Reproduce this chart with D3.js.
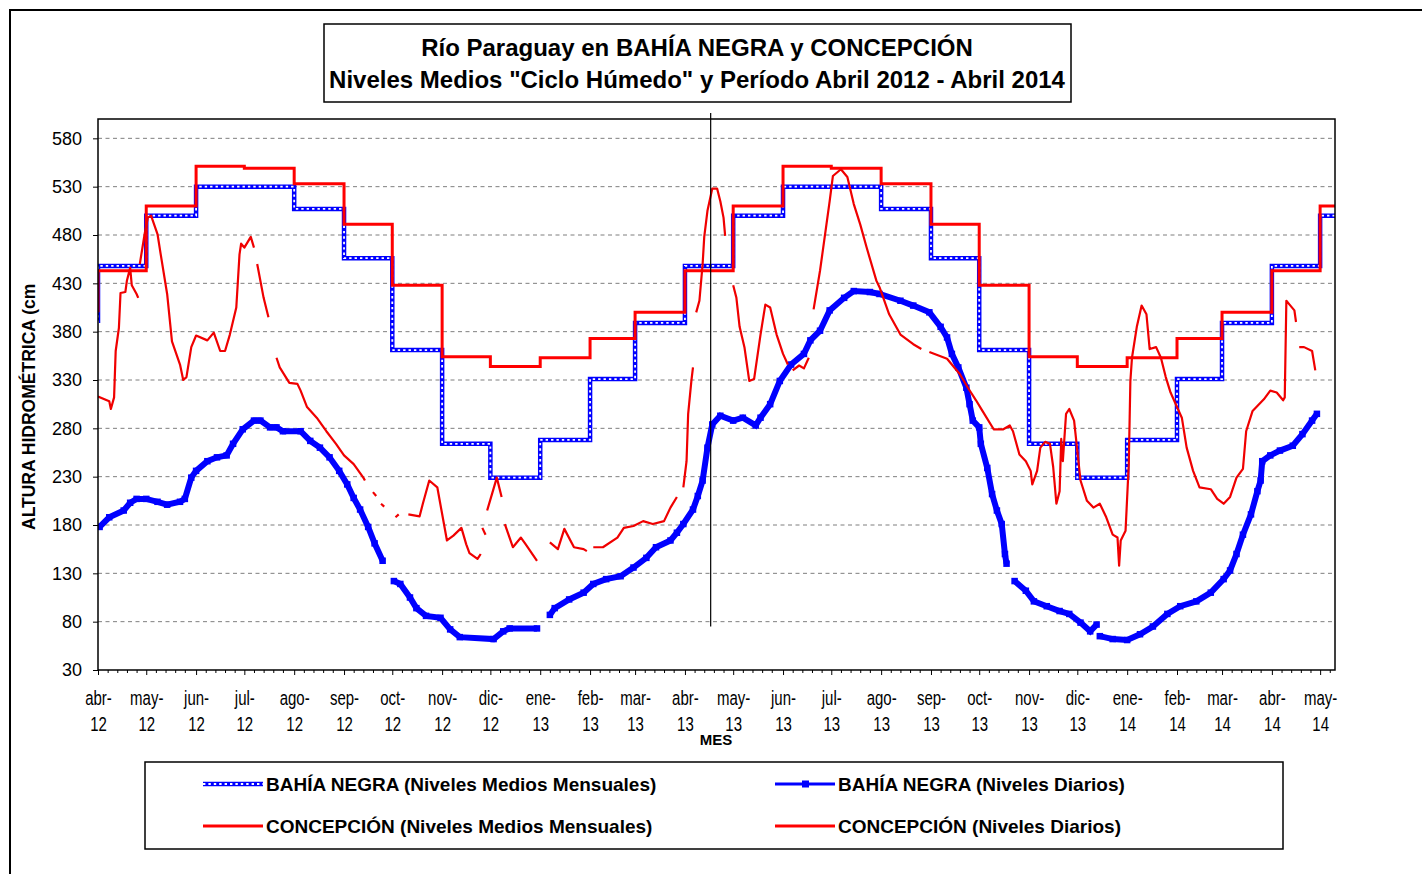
<!DOCTYPE html>
<html>
<head>
<meta charset="utf-8">
<script src="https://cdn.jsdelivr.net/npm/d3@7"></script>
<style>
  body { margin: 0; background: #fff; }
  svg { font-family: Arial, "Liberation Sans", sans-serif; }
</style>
</head>
<body>
<script>
var width = 1422;
var height = 874;

// x tick labels, one per month start (abr-12 ... may-14)
var monthLabels = ["abr-12","may-12","jun-12","jul-12","ago-12","sep-12","oct-12","nov-12","dic-12",
  "ene-13","feb-13","mar-13","abr-13","may-13","jun-13","jul-13","ago-13","sep-13","oct-13","nov-13",
  "dic-13","ene-14","feb-14","mar-14","abr-14","may-14"];
var yTicks = [30, 80, 130, 180, 230, 280, 330, 380, 430, 480, 530, 580];

// monthly means "ciclo humedo", first value is the month before (mar-12)
var bnMonthly = [389, 448, 500, 530, 530, 507, 456, 361, 264, 229, 268, 331, 389,
  448, 500, 530, 530, 507, 456, 361, 264, 229, 268, 331, 389, 448, 500];
var coMonthly = [400, 443, 510, 551, 549, 533, 491, 428, 354, 344, 353, 373, 400,
  443, 510, 551, 549, 533, 491, 428, 354, 344, 353, 373, 400, 443, 510];

// daily levels: [day since 1-abr-2012, cm], null = no data
var bnDaily = [[1,178],[7,188],[16,195],[20,203],[24,207],[30,207],[37,204],[43,201],[51,204],[54,207],
  [58,229],[61,236],[68,246],[74,250],[80,252],[84,264],[90,279],[97,288],[101,288],[107,281],[111,281],
  [115,277],[126,277],[132,267],[138,260],[144,250],[150,236],[155,222],[159,208],[163,196],[168,178],
  [172,161],[177,143],null,[184,122],[188,119],[194,105],[198,94],[204,86],[213,84],[219,72],[225,64],
  [246,62],[252,70],[256,73],[273,73],null,[281,87],[284,94],[293,103],[302,110],[308,119],[316,124],
  [325,127],[333,136],[341,146],[347,157],[356,164],[360,172],[364,181],[370,196],[373,210],[376,226],
  [379,260],[382,284],[387,293],[395,288],[401,291],[409,283],[412,291],[418,305],[424,329],[431,346],
  [439,357],[443,371],[449,381],[455,402],[464,415],[470,422],[480,421],[486,419],[499,412],[507,407],
  [517,400],[524,385],[528,374],[531,357],[535,343],[540,322],[542,305],[544,288],[548,281],[549,264],
  [553,239],[556,212],[559,195],[562,181],[564,150],[565,140],null,[570,122],[577,112],[582,101],[590,96],
  [598,91],[604,88],[611,79],[617,70],[621,77],null,[623,65],[631,62],[640,61],[648,67],[656,75],[665,88],
  [673,96],[683,101],[692,110],[700,124],[704,133],[708,150],[712,170],[717,191],[721,215],[723,226],
  [724,246],[729,252],[735,257],[743,262],[749,274],[755,288],[758,295]];

var coDaily = [[0,313],[7,308],[8,300],[10,312],[11,360],[13,384],[14,420],[17,421],[18,433],[20,446],
  [21,428],[24,419],[25,415],null,
  [26,450],[29,481],[31,498],[33,500],[37,481],[39,460],[43,419],[46,370],[51,346],[53,330],[55,333],
  [58,364],[61,376],[68,371],[72,379],[76,360],[79,360],[82,377],[86,405],[88,460],[89,471],[91,467],
  [95,478],[97,467],null,
  [99,450],[103,415],[106,395],null,
  [111,353],[113,343],[119,327],[124,326],[126,319],[130,302],[136,291],[142,277],[148,264],[153,252],
  [159,243],[165,229],[166,226],null,
  [171,214],[173,210],null,
  [176,202],[178,199],null,
  [185,188],[187,191],null,
  [193,191],[200,189],[202,202],[206,226],[211,219],[217,164],[221,169],[226,177],[229,160],[231,151],
  [236,145],[238,150],null,
  [239,177],[241,170],null,
  [242,195],[245,212],[248,229],[251,209],null,
  [253,181],[258,157],[263,167],[266,160],[273,143],null,
  [281,162],[286,155],[290,176],[296,157],[302,155],[304,153],null,
  [308,157],[314,157],[323,167],[327,177],[333,179],[339,184],[345,181],[352,184],[356,198],[360,209],null,
  [364,219],[366,246],[367,295],[369,329],[370,343],null,
  [372,400],[374,412],[376,450],[377,478],[379,505],[382,528],[385,528],[387,515],[389,498],[390,479],null,
  [395,428],[397,415],[399,385],[402,364],[405,329],[408,331],[412,377],[415,408],[418,405],[422,377],
  [426,357],[429,346],null,
  [432,340],[436,345],[439,342],[442,353],null,
  [445,403],[449,443],[453,491],[455,515],[457,541],[462,548],[466,540],[470,512],[474,491],[478,467],
  [484,433],[486,426],[492,398],[499,377],[507,367],[512,362],null,
  [517,359],[528,352],[536,336],[541,322],[546,309],[550,298],[557,279],[563,279],[567,283],[569,277],
  [573,253],[577,246],[580,236],[581,222],[584,236],[586,260],[589,266],[592,264],[594,240],[596,202],
  [598,215],[599,269],[600,246],[602,295],[604,300],[607,288],[611,226],[615,205],[619,198],[623,202],
  [627,188],[631,170],[634,167],[635,138],[636,164],[639,174],[641,243],[642,329],[643,353],[646,385],
  [649,407],[652,398],[654,362],[658,364],[661,353],[664,333],[667,317],[671,302],[674,291],[677,260],
  [681,236],[685,219],[692,217],[696,207],[700,202],[704,209],[708,229],[712,238],[714,277],[718,298],
  [725,310],[729,319],[733,317],[737,309],[738,312],[739,412],[741,408],[744,402],[745,390],null,
  [747,364],[750,364],[755,360],[757,340]];

var day0 = new Date(2012, 3, 1);
var markerDate = new Date(2013, 3, 17); // vertical line

var svg = d3.select('body').append('svg').attr('width', width).attr('height', height);

var x = d3.scaleTime().domain([day0, new Date(2014, 4, 10, 6)]).range([98, 1335]);
var y = d3.scaleLinear().domain([30, 600]).range([670, 119]);

var monthDates = monthLabels.map(function (l, i) { return d3.timeMonth.offset(day0, i); });

// outer frame
svg.append('rect').attr('x', 10).attr('y', 10).attr('width', 1440).attr('height', 900)
  .attr('fill', 'none').attr('stroke', '#000').attr('stroke-width', 2);

// title
svg.append('rect').attr('x', 324).attr('y', 24).attr('width', 747).attr('height', 78)
  .attr('fill', '#fff').attr('stroke', '#000').attr('stroke-width', 1.5);
svg.append('text').attr('x', 697).attr('y', 56).attr('text-anchor', 'middle')
  .attr('font-size', 24).attr('font-weight', 'bold')
  .text('Río Paraguay en BAHÍA NEGRA y CONCEPCIÓN');
svg.append('text').attr('x', 697).attr('y', 88).attr('text-anchor', 'middle')
  .attr('font-size', 24).attr('font-weight', 'bold')
  .text('Niveles Medios "Ciclo Húmedo" y Período Abril 2012 - Abril 2014');

// grid
svg.append('g').selectAll('line').data(yTicks.slice(1)).enter().append('line')
  .attr('x1', 98).attr('x2', 1335)
  .attr('y1', function (d) { return y(d); }).attr('y2', function (d) { return y(d); })
  .attr('stroke', '#7f7f7f').attr('stroke-width', 1).attr('stroke-dasharray', '4,3.5');

// y axis
var yAxis = svg.append('g').attr('transform', 'translate(98,0)')
  .call(d3.axisLeft(y).tickValues(yTicks).tickSize(5).tickPadding(11).tickSizeOuter(0));
yAxis.select('.domain').remove();
yAxis.selectAll('text').attr('font-size', 18).attr('font-family', 'Arial, "Liberation Sans", sans-serif').attr('fill', '#000');

// x axis minor ticks, every 6 days within each month
var minorDates = [];
monthDates.forEach(function (m) {
  var next = d3.timeMonth.offset(m, 1);
  for (var k = 6; ; k += 6) {
    var d = d3.timeDay.offset(m, k);
    if (d3.timeDay.count(d, next) < 3 || d > x.domain()[1]) break;
    minorDates.push(d);
  }
});
var xMinor = svg.append('g').attr('transform', 'translate(0,670)')
  .call(d3.axisBottom(x).tickValues(minorDates).tickSize(3).tickFormat(''));
xMinor.select('.domain').remove();

var sy = 1.35;
var xAxis = svg.append('g').attr('transform', 'translate(0,670)')
  .call(d3.axisBottom(x).tickValues(monthDates).tickSize(5).tickSizeOuter(0)
    .tickFormat(function (d, i) { return monthLabels[i]; }));
xAxis.select('.domain').remove();
xAxis.selectAll('.tick text').each(function (d, i) {
  var parts = monthLabels[i].split('-');
  var t = d3.select(this).text(null).attr('y', null).attr('dy', null)
    .attr('font-size', 15).attr('fill', '#000')
    .attr('font-family', 'Arial, "Liberation Sans", sans-serif')
    .attr('transform', 'scale(1,' + sy + ')');
  t.append('tspan').attr('x', 0).attr('y', 35 / sy).text(parts[0] + '-');
  t.append('tspan').attr('x', 0).attr('y', 61 / sy).text(parts[1]);
});

svg.append('text').attr('x', 716).attr('y', 745).attr('text-anchor', 'middle')
  .attr('font-size', 15).attr('font-weight', 'bold').text('MES');

// y axis title, cut at the top like the original
svg.append('clipPath').attr('id', 'ytclip').append('rect')
  .attr('x', 0).attr('y', 284).attr('width', 80).attr('height', 400);
svg.append('g').attr('clip-path', 'url(#ytclip)')
  .append('text')
  .attr('transform', 'translate(35,530) rotate(-90)')
  .attr('font-size', 17.5).attr('font-weight', 'bold')
  .text('ALTURA HIDROMÉTRICA (cm)');

// plot
svg.append('clipPath').attr('id', 'plotclip').append('rect')
  .attr('x', 98).attr('y', 119).attr('width', 1237).attr('height', 551);
var plot = svg.append('g').attr('clip-path', 'url(#plotclip)');

function stepPoints(vals) {
  var pts = [[day0, vals[0]]];
  monthDates.forEach(function (d, i) { pts.push([d, vals[i + 1]]); });
  pts.push([x.domain()[1], vals[vals.length - 1]]);
  return pts;
}
var stepLine = d3.line()
  .x(function (d) { return x(d[0]); })
  .y(function (d) { return y(d[1]); })
  .curve(d3.curveStepAfter);
var dayLine = d3.line()
  .defined(function (d) { return d !== null; })
  .x(function (d) { return x(d3.timeDay.offset(day0, d[0])); })
  .y(function (d) { return y(d[1]); });

// Bahia Negra monthly (hollow square markers look)
plot.append('path').attr('d', stepLine(stepPoints(bnMonthly)))
  .attr('fill', 'none').attr('stroke', '#0000ff').attr('stroke-width', 4.5);
plot.append('path').attr('d', stepLine(stepPoints(bnMonthly)))
  .attr('fill', 'none').attr('stroke', '#fff').attr('stroke-width', 1.8)
  .attr('stroke-dasharray', '2.4,3');

// Bahia Negra daily
plot.append('path').attr('d', dayLine(bnDaily))
  .attr('fill', 'none').attr('stroke', '#0000ff').attr('stroke-width', 6);
plot.append('g').selectAll('rect').data(bnDaily.filter(function (d) { return d !== null; }))
  .enter().append('rect')
  .attr('x', function (d) { return x(d3.timeDay.offset(day0, d[0])) - 3.25; })
  .attr('y', function (d) { return y(d[1]) - 3.25; })
  .attr('width', 6.5).attr('height', 6.5).attr('fill', '#0000ff');

// Concepcion monthly
plot.append('path').attr('d', stepLine(stepPoints(coMonthly)))
  .attr('fill', 'none').attr('stroke', '#ff0000').attr('stroke-width', 3);

// Concepcion daily
plot.append('path').attr('d', dayLine(coDaily))
  .attr('fill', 'none').attr('stroke', '#f00000').attr('stroke-width', 2.2)
  .attr('stroke-linejoin', 'round');

// plot border
svg.append('rect').attr('x', 98).attr('y', 119).attr('width', 1237).attr('height', 551)
  .attr('fill', 'none').attr('stroke', '#000').attr('stroke-width', 1.5);

// vertical marker line
svg.append('line').attr('x1', x(markerDate)).attr('x2', x(markerDate))
  .attr('y1', y(600) - 6).attr('y2', y(75))
  .attr('stroke', '#000').attr('stroke-width', 1.2);

// legend
svg.append('rect').attr('x', 145).attr('y', 762).attr('width', 1138).attr('height', 87)
  .attr('fill', '#fff').attr('stroke', '#000').attr('stroke-width', 1.5);
var legendItems = [
  {name: 'BAHÍA NEGRA (Niveles Medios Mensuales)', col: 0, row: 0},
  {name: 'BAHÍA NEGRA (Niveles Diarios)', col: 1, row: 0},
  {name: 'CONCEPCIÓN (Niveles Medios Mensuales)', col: 0, row: 1},
  {name: 'CONCEPCIÓN (Niveles Diarios)', col: 1, row: 1}
];
var lg = svg.append('g').selectAll('g').data(legendItems).enter().append('g')
  .attr('transform', function (d) { return 'translate(' + (d.col ? 775 : 203) + ',' + (d.row ? 826 : 784) + ')'; });
lg.append('text').attr('x', 63).attr('y', 7).attr('font-size', 19).attr('font-weight', 'bold')
  .text(function (d) { return d.name; });
lg.each(function (d, i) {
  var g = d3.select(this);
  if (i === 0) {
    g.append('line').attr('x1', 0).attr('x2', 60).attr('stroke', '#0000ff').attr('stroke-width', 4.5);
    g.append('line').attr('x1', 0).attr('x2', 60).attr('stroke', '#fff').attr('stroke-width', 1.8)
      .attr('stroke-dasharray', '2.4,3');
  } else if (i === 1) {
    g.append('line').attr('x1', 0).attr('x2', 60).attr('stroke', '#0000ff').attr('stroke-width', 3);
    g.append('rect').attr('x', 27).attr('y', -3.5).attr('width', 7).attr('height', 7).attr('fill', '#0000ff');
  } else {
    g.append('line').attr('x1', 0).attr('x2', 60).attr('stroke', '#ff0000').attr('stroke-width', 3);
  }
});
</script>
</body>
</html>
